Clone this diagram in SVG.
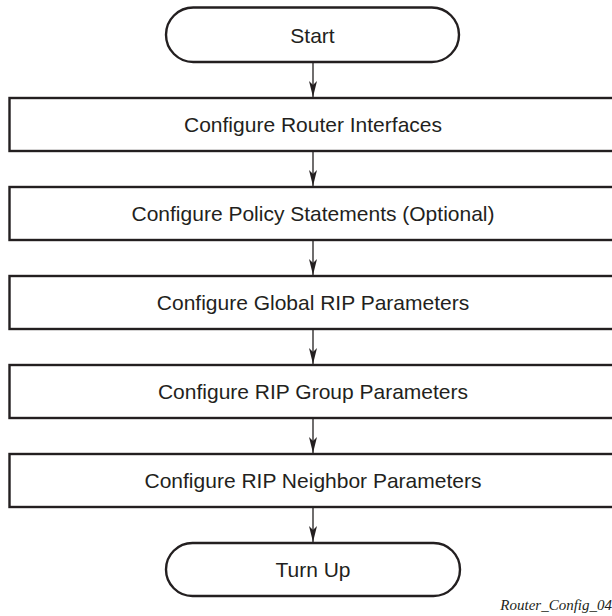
<svg xmlns="http://www.w3.org/2000/svg" width="612" height="616" viewBox="0 0 612 616">
<defs>
<style>
.box{fill:#fff;stroke:#231f20;stroke-width:2.4}
.lbl{font-family:"Liberation Sans",Arial,sans-serif;font-size:21px;fill:#231f20;text-anchor:middle}
.conn{stroke:#231f20;stroke-width:1.3;fill:none}
.cap{font-family:"Liberation Serif","Times New Roman",serif;font-style:italic;font-size:15px;fill:#231f20;text-anchor:end}
</style>
<marker id="arr" viewBox="0 0 16 8" refX="16" refY="4" markerWidth="16" markerHeight="8" markerUnits="userSpaceOnUse" orient="auto">
<path d="M0,0 L16,4 L0,8 L4,4 Z" fill="#231f20"/>
</marker>
</defs>
<g id="connectors">
<line class="conn" x1="313" y1="62" x2="313" y2="97" marker-end="url(#arr)"/>
<line class="conn" x1="313" y1="151" x2="313" y2="186" marker-end="url(#arr)"/>
<line class="conn" x1="313" y1="240" x2="313" y2="275" marker-end="url(#arr)"/>
<line class="conn" x1="313" y1="329" x2="313" y2="364" marker-end="url(#arr)"/>
<line class="conn" x1="313" y1="418" x2="313" y2="453" marker-end="url(#arr)"/>
<line class="conn" x1="313" y1="507" x2="313" y2="542" marker-end="url(#arr)"/>
</g>
<g id="start">
<rect class="box" x="166" y="7.5" width="293" height="54.5" rx="27.25" ry="27.25"/>
<text class="lbl" x="312.5" y="42.5">Start</text>
</g>
<g id="n1">
<rect class="box" x="9.5" y="98" width="608" height="53"/>
<text class="lbl" x="313" y="132">Configure Router Interfaces</text>
</g>
<g id="n2">
<rect class="box" x="9.5" y="187" width="608" height="53"/>
<text class="lbl" x="313" y="221">Configure Policy Statements (Optional)</text>
</g>
<g id="n3">
<rect class="box" x="9.5" y="276" width="608" height="53"/>
<text class="lbl" x="313" y="310">Configure Global RIP Parameters</text>
</g>
<g id="n4">
<rect class="box" x="9.5" y="365" width="608" height="53"/>
<text class="lbl" x="313" y="399">Configure RIP Group Parameters</text>
</g>
<g id="n5">
<rect class="box" x="9.5" y="454" width="608" height="53"/>
<text class="lbl" x="313" y="488">Configure RIP Neighbor Parameters</text>
</g>
<g id="end">
<rect class="box" x="166" y="543" width="294" height="53" rx="26.5" ry="26.5"/>
<text class="lbl" x="313" y="577">Turn Up</text>
</g>
<text class="cap" x="612" y="610">Router_Config_04</text>
</svg>
